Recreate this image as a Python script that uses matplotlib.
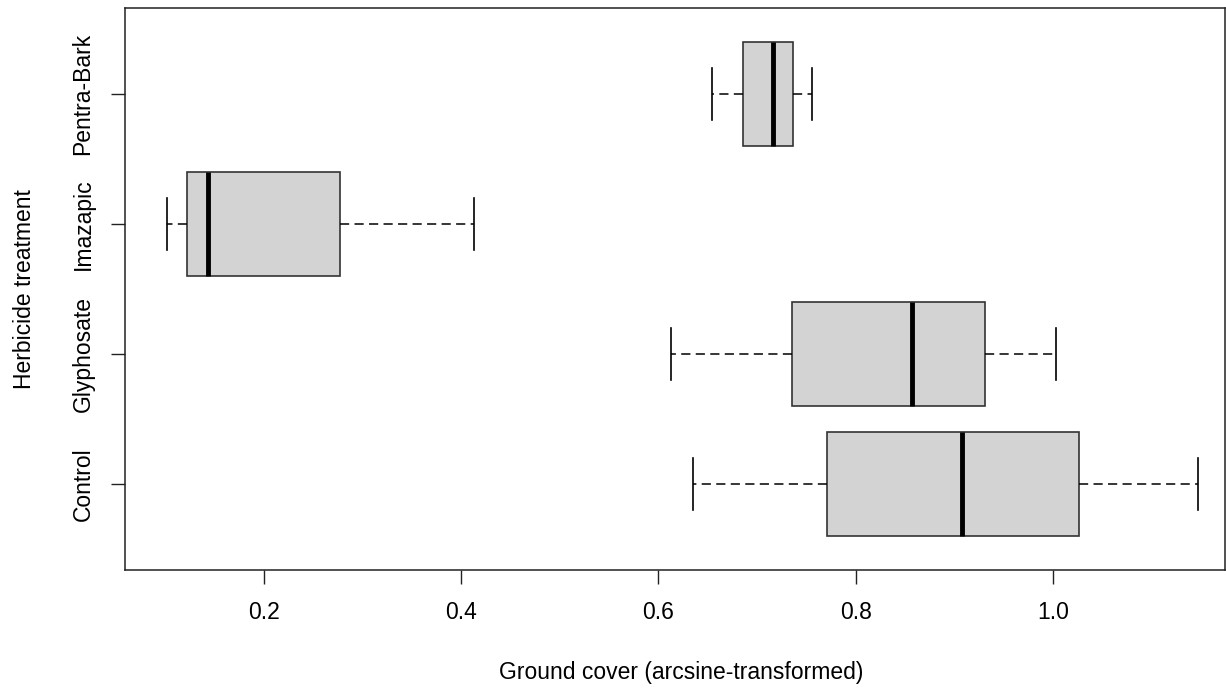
import matplotlib
matplotlib.use("Agg")
import matplotlib.pyplot as plt

plt.rcParams['font.family'] = ['Liberation Sans', 'DejaVu Sans']

categories = ["Control", "Glyphosate", "Imazapic", "Pentra-Bark"]
whislo = [0.635, 0.613, 0.102, 0.654]
q1 = [0.771, 0.735, 0.1215, 0.686]
med = [0.908, 0.857, 0.1427, 0.7165]
q3 = [1.027, 0.931, 0.2772, 0.7364]
whishi = [1.147, 1.003, 0.4131, 0.756]
xticks = [0.2, 0.4, 0.6, 0.8, 1.0]

stats = []
for i, c in enumerate(categories):
    stats.append(dict(label=c, whislo=whislo[i], q1=q1[i], med=med[i],
                      q3=q3[i], whishi=whishi[i], fliers=[]))

fig = plt.figure(figsize=(12.26, 6.89), dpi=100)
ax = fig.add_axes([125/1226, (689-570)/689, 1100/1226, 562/689])

ax.bxp(stats, positions=range(1, 5), vert=False, widths=0.8, patch_artist=True,
       showfliers=False,
       boxprops=dict(facecolor='#D3D3D3', edgecolor='#333333', linewidth=1.2),
       medianprops=dict(color='black', linewidth=3.5, solid_capstyle='butt'),
       whiskerprops=dict(color='black', linestyle=(0, (6, 3.5)), linewidth=1.1),
       capprops=dict(color='black', linewidth=1.2),
       capwidths=0.4)

ax.set_xlim(0.059, 1.1746)
ax.set_ylim(0.34, 4.66)
ax.set_xticks(xticks)
ax.set_xticklabels([f"{t:.1f}" for t in xticks])
ax.set_yticks(range(1, 5))
ax.set_yticklabels(categories, rotation=90, va='center')
ax.tick_params(axis='both', direction='out', length=10, width=1, labelsize=16.5,
               color='#222222')
ax.tick_params(axis='x', pad=12)
ax.tick_params(axis='y', pad=12)
for s in ax.spines.values():
    s.set_linewidth(1.1)
    s.set_color('#222222')

fig.text(681/1226, 1 - 672/689, "Ground cover (arcsine-transformed)", ha='center',
         va='center', fontsize=16.5)
fig.text(25/1226, 1 - 289/689, "Herbicide treatment", ha='center', va='center',
         rotation=90, fontsize=16.5)

fig.savefig("out.png", dpi=100)
